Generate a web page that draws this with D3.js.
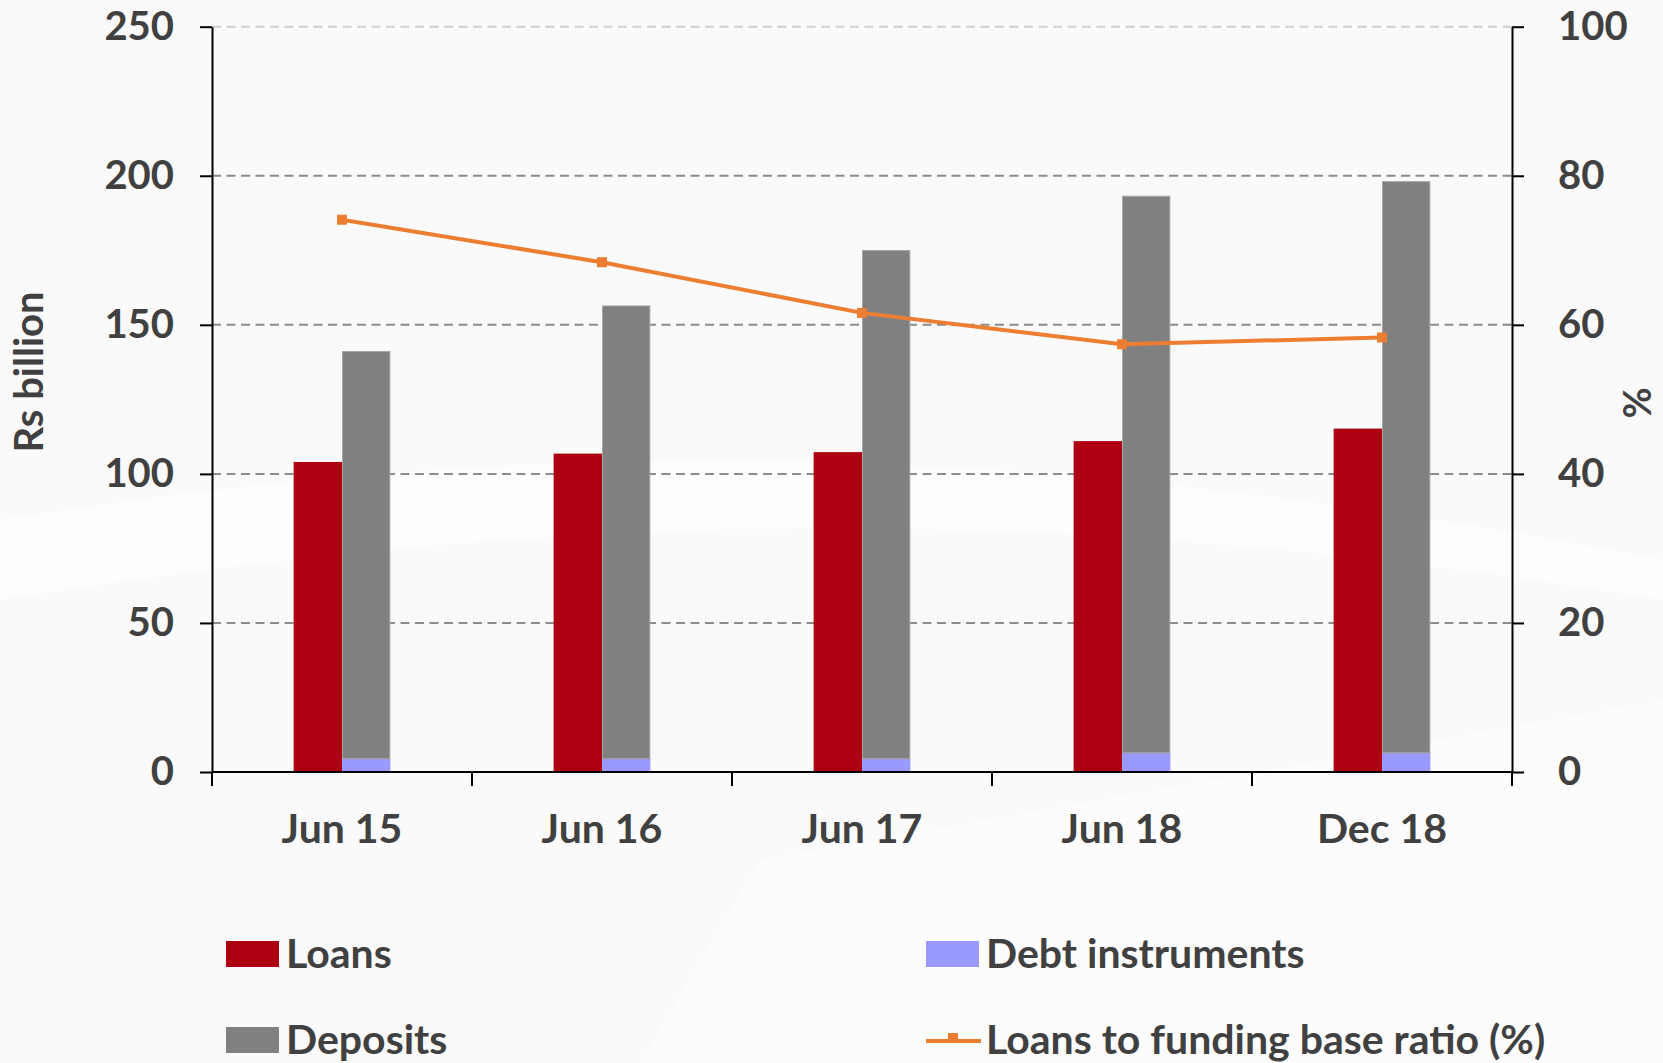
<!DOCTYPE html>
<html>
<head>
<meta charset="utf-8">
<script src="https://cdn.jsdelivr.net/npm/d3@7"></script>
<style>
  body { margin: 0; background: #fafafb; }
  svg text { font-family: Lato, "Open Sans", sans-serif; font-weight: bold; fill: #404040; }
</style>
</head>
<body>
<script>
var categories = ["Jun 15", "Jun 16", "Jun 17", "Jun 18", "Dec 18"];
var loans = [104, 106.8, 107.3, 111, 115.2];
var deposits = [136.6, 151.9, 170.5, 186.7, 191.6];
var debt = [4.6, 4.6, 4.6, 6.6, 6.6];
var ratio = [74.1, 68.4, 61.6, 57.4, 58.3];
var leftTicks = [0, 50, 100, 150, 200, 250];
var rightTicks = [0, 20, 40, 60, 80, 100];

var w = 1663, h = 1063;
var mLeft = 212, mRight = 1512, mTop = 26.7, mBottom = 772;

var svg = d3.select("body").append("svg")
    .attr("width", w)
    .attr("height", h);

// faint background swooshes
svg.append("path")
    .attr("d", "M0,520 C500,440 1000,430 1663,560 L1663,600 C1000,490 500,520 0,600 Z")
    .attr("fill", "#ffffff").attr("opacity", 0.6);
svg.append("path")
    .attr("d", "M640,1063 L760,860 L1663,700 L1663,1063 Z")
    .attr("fill", "#ffffff").attr("opacity", 0.4);

var x = d3.scaleBand()
    .domain(categories)
    .range([mLeft, mRight])
    .padding(0);

var y = d3.scaleLinear().domain([0, 250]).range([mBottom, mTop]);
var y2 = d3.scaleLinear().domain([0, 100]).range([mBottom, mTop]);

// gridlines
svg.append("g").selectAll("line")
    .data(leftTicks.slice(1))
    .enter().append("line")
    .attr("x1", mLeft)
    .attr("x2", mRight)
    .attr("y1", function(d) { return y(d); })
    .attr("y2", function(d) { return y(d); })
    .attr("stroke", function(d) { return d == 250 ? "#d0d0d0" : "#8c8c8c"; })
    .attr("stroke-width", 2)
    .attr("stroke-dasharray", "9,5.5");

var barW = x.bandwidth() * 0.186;

var bars = svg.append("g");
categories.forEach(function(c, i) {
    var cx = x(c) + x.bandwidth() / 2;
    bars.append("rect")
        .attr("x", cx - barW)
        .attr("y", y(loans[i]))
        .attr("width", barW)
        .attr("height", y(0) - y(loans[i]))
        .attr("fill", "#ad0010");
    bars.append("rect")
        .attr("x", cx)
        .attr("y", y(debt[i]))
        .attr("width", barW)
        .attr("height", y(0) - y(debt[i]))
        .attr("fill", "#9999ff");
    bars.append("rect")
        .attr("x", cx + 0.5)
        .attr("y", y(debt[i] + deposits[i]) + 0.5)
        .attr("width", barW - 1)
        .attr("height", y(debt[i]) - y(debt[i] + deposits[i]))
        .attr("fill", "#808080")
        .attr("stroke", "#a6a6a6")
        .attr("stroke-width", 1);
});

// left axis
var gl = svg.append("g")
    .attr("transform", "translate(" + mLeft + ",0)")
    .call(d3.axisLeft(y).tickValues(leftTicks).tickSize(12).tickPadding(26).tickSizeOuter(0));
// right axis
var gr = svg.append("g")
    .attr("transform", "translate(" + mRight + ",0)")
    .call(d3.axisRight(y2).tickValues(rightTicks).tickSize(12).tickPadding(34).tickSizeOuter(0));
[gl, gr].forEach(function(g) {
    g.select(".domain").attr("stroke", "#000").attr("stroke-width", 2);
    g.selectAll(".tick line").attr("stroke", "#000").attr("stroke-width", 2);
    g.selectAll(".tick text").style("font-size", "40px").attr("fill", "#404040");
});

// bottom axis
svg.append("line")
    .attr("x1", mLeft).attr("x2", mRight)
    .attr("y1", mBottom).attr("y2", mBottom)
    .attr("stroke", "#000").attr("stroke-width", 2);
svg.append("g").selectAll("line")
    .data(categories.concat(["end"]))
    .enter().append("line")
    .attr("x1", function(d, i) { return mLeft + i * x.step(); })
    .attr("x2", function(d, i) { return mLeft + i * x.step(); })
    .attr("y1", mBottom)
    .attr("y2", mBottom + 14)
    .attr("stroke", "#000").attr("stroke-width", 2);
svg.append("g").selectAll("text")
    .data(categories)
    .enter().append("text")
    .attr("x", function(d) { return x(d) + x.bandwidth() / 2; })
    .attr("y", mBottom + 71)
    .style("text-anchor", "middle")
    .style("font-size", "41px")
    .text(function(d) { return d; });

// ratio line
var line = d3.line()
    .x(function(d, i) { return x(categories[i]) + x.bandwidth() / 2; })
    .y(function(d) { return y2(d); });
svg.append("path")
    .datum(ratio)
    .attr("d", line)
    .attr("fill", "none")
    .attr("stroke", "#ed7d31")
    .attr("stroke-width", 4);
svg.append("g").selectAll("rect")
    .data(ratio)
    .enter().append("rect")
    .attr("x", function(d, i) { return x(categories[i]) + x.bandwidth() / 2 - 5; })
    .attr("y", function(d) { return y2(d) - 5; })
    .attr("width", 10)
    .attr("height", 10)
    .attr("fill", "#ed7d31");

// axis titles
svg.append("text")
    .attr("transform", "translate(43,372) rotate(-90)")
    .style("text-anchor", "middle")
    .style("font-size", "40px")
    .text("Rs billion");
svg.append("text")
    .attr("transform", "translate(1651,403) rotate(-90)")
    .style("text-anchor", "middle")
    .style("font-size", "38px")
    .text("%");

// legend
var legend = [
    {name: "Loans", color: "#ad0010", x: 226, y: 941, type: "box"},
    {name: "Debt instruments", color: "#9999ff", x: 926, y: 941, type: "box"},
    {name: "Deposits", color: "#808080", x: 226, y: 1027, type: "box"},
    {name: "Loans to funding base ratio (%)", color: "#ed7d31", x: 926, y: 1027, type: "line"}
];
legend.forEach(function(d) {
    if (d.type == "box") {
        svg.append("rect")
            .attr("x", d.x).attr("y", d.y)
            .attr("width", 53).attr("height", 26)
            .attr("fill", d.color);
    } else {
        svg.append("line")
            .attr("x1", d.x).attr("x2", d.x + 55)
            .attr("y1", d.y + 14).attr("y2", d.y + 14)
            .attr("stroke", d.color).attr("stroke-width", 4);
        svg.append("rect")
            .attr("x", d.x + 22).attr("y", d.y + 6)
            .attr("width", 10).attr("height", 10)
            .attr("fill", d.color);
    }
    svg.append("text")
        .attr("x", d.x + 60)
        .attr("y", d.y + 27)
        .style("font-size", "41px")
        .text(d.name);
});
</script>
</body>
</html>
